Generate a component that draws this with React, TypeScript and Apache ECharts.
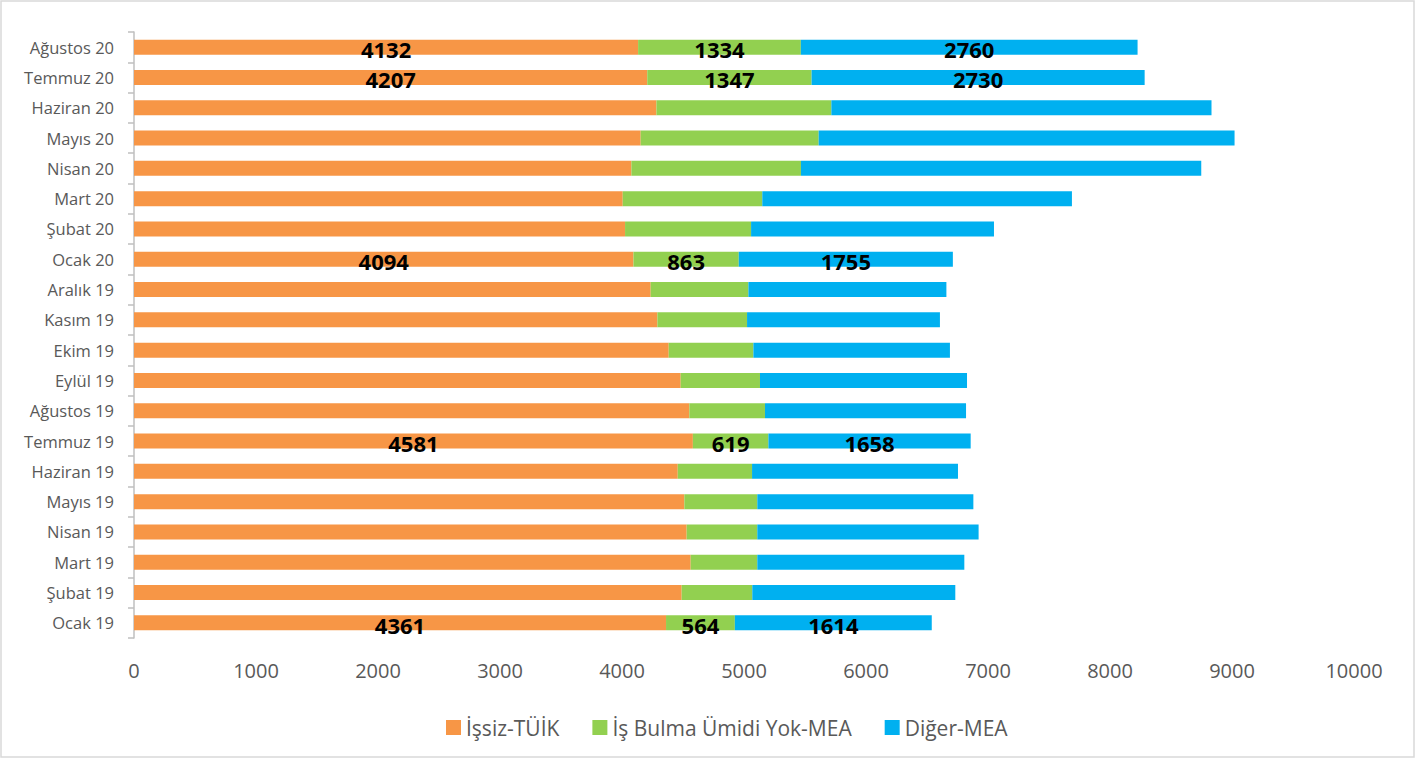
import React, { useEffect, useRef } from "react";
import * as echarts from "echarts";

const categories = [
  "Ocak 19", "Şubat 19", "Mart 19", "Nisan 19", "Mayıs 19", "Haziran 19",
  "Temmuz 19", "Ağustos 19", "Eylül 19", "Ekim 19", "Kasım 19", "Aralık 19",
  "Ocak 20", "Şubat 20", "Mart 20", "Nisan 20", "Mayıs 20", "Haziran 20",
  "Temmuz 20", "Ağustos 20",
];

const issizTuik = [
  4361, 4489, 4563, 4530, 4511, 4457, 4581, 4552, 4481, 4383, 4290, 4235,
  4094, 4025, 4006, 4077, 4153, 4282, 4207, 4132,
];

const umitsizMea = [
  564, 579, 546, 579, 598, 609, 619, 620, 650, 694, 735, 801,
  863, 1033, 1144, 1390, 1459, 1434, 1347, 1334,
];

const digerMea = [
  1614, 1664, 1697, 1814, 1771, 1688, 1658, 1648, 1697, 1611, 1581, 1623,
  1755, 1991, 2538, 3281, 3409, 3116, 2730, 2760,
];

const labeledCategories = ["Ocak 19", "Temmuz 19", "Ocak 20", "Temmuz 20", "Ağustos 20"];

const seriesNames = ["İşsiz-TÜİK", "İş Bulma Ümidi Yok-MEA", "Diğer-MEA"];
const seriesColors = ["#F79646", "#92D050", "#00B0F0"];

const FONT = "'Open Sans', 'Noto Sans', sans-serif";

export default function App() {
  const ref = useRef<HTMLDivElement>(null);

  useEffect(() => {
    if (!ref.current) return;
    const chart = echarts.init(ref.current, undefined, { renderer: "svg" });
    const allValues = [issizTuik, umitsizMea, digerMea];
    const series = allValues.map((vals, si) => ({
      name: seriesNames[si],
      type: "bar",
      stack: "total",
      barWidth: 15,
      itemStyle: { color: seriesColors[si] },
      label: {
        show: false,
        position: "inside",
        color: "#000",
        fontWeight: "bold",
        fontSize: 22,
        fontFamily: FONT,
        offset: [0, 2],
      },
      data: vals.map((v, i) =>
        labeledCategories.includes(categories[i])
          ? { value: v, label: { show: true } }
          : v
      ),
    }));

    chart.setOption({
      animation: false,
      backgroundColor: "#fff",
      textStyle: { fontFamily: FONT },
      grid: { left: 134, top: 32, width: 1220, height: 606, containLabel: false },
      legend: {
        data: seriesNames,
        left: 441,
        top: 712,
        icon: "rect",
        itemWidth: 15,
        itemHeight: 15,
        itemGap: 33,
        textStyle: { fontSize: 21, color: "#595959", fontFamily: FONT },
      },
      xAxis: {
        type: "value",
        min: 0,
        max: 10000,
        interval: 1000,
        axisLine: { show: false },
        axisTick: { show: false },
        splitLine: { show: false },
        axisLabel: {
          fontSize: 20,
          color: "#595959",
          margin: 22,
          fontFamily: FONT,
          formatter: (v: number) => String(v),
        },
      },
      yAxis: {
        type: "category",
        data: categories,
        axisLine: { show: true, lineStyle: { color: "#BFBFBF", width: 1.5 } },
        axisTick: { show: true, length: 6, lineStyle: { color: "#BFBFBF", width: 1.5 } },
        axisLabel: { fontSize: 16.5, color: "#595959", margin: 20, fontFamily: FONT },
      },
      graphic: [
        {
          type: "rect",
          shape: { x: 1, y: 1, width: 1413, height: 756 },
          style: { fill: "none", stroke: "#D9D9D9", lineWidth: 1.5 },
          silent: true,
        },
      ],
      series,
    });

    return () => chart.dispose();
  }, []);

  return (
    <div
      ref={ref}
      style={{ position: "fixed", left: 0, top: 0, width: 1423, height: 760, background: "#fff" }}
    />
  );
}
